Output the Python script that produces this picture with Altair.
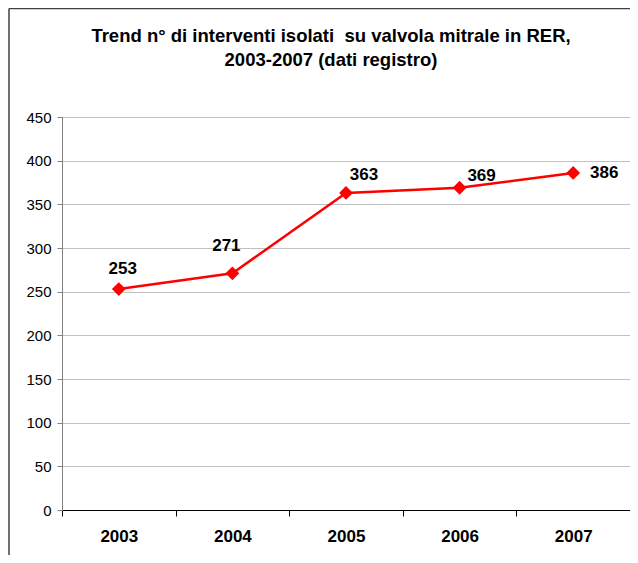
import altair as alt
import pandas as pd

years = ["2003", "2004", "2005", "2006", "2007"]
values = [253, 271, 363, 369, 386]
title_lines = ["Trend n° di interventi isolati \u00a0su valvola mitrale in RER,", "2003-2007 (dati registro)"]

df = pd.DataFrame({"anno": years, "n": values})

FONT = "Liberation Sans"
RED = "#ff0000"

x_enc = alt.X(
    "anno:N",
    sort=years,
    bandPosition=0.5,
    scale=alt.Scale(type="band", paddingInner=0, paddingOuter=0),
    axis=alt.Axis(
        title=None, labelAngle=0, tickBand="extent", tickSize=6, tickColor="#000000",
        domainColor="#000000", labelFont=FONT, labelFontSize=17, labelFontWeight="bold",
        labelColor="#000000", labelPadding=12, labelBaseline="top", grid=False,
    ),
)
y_enc = alt.Y(
    "n:Q",
    scale=alt.Scale(domain=[0, 450], nice=False, zero=True),
    axis=alt.Axis(
        title=None, values=list(range(0, 451, 50)), tickSize=5, tickColor="#808080",
        domainColor="#808080", labelFont=FONT, labelFontSize=15, labelColor="#000000",
        labelPadding=6, gridColor="#c0c0c0", gridWidth=1,
    ),
)

base = alt.Chart(df).encode(x=x_enc, y=y_enc)

line = base.mark_line(color=RED, strokeWidth=2.5)
pts = base.mark_point(shape="diamond", size=190, filled=True, color=RED, opacity=1)

label_style = dict(font=FONT, fontSize=17, fontWeight="bold", color="#000000", align="center", baseline="middle")
offsets = {"2003": (4, -20), "2004": (-6, -27), "2005": (18, -18), "2006": (22, -12), "2007": (31, 0)}
labels = [
    base.transform_filter(alt.datum.anno == yr).mark_text(dx=dx, dy=dy, **label_style).encode(text="n:Q")
    for yr, (dx, dy) in offsets.items()
]

frame_data = alt.Data(values=[{"k": 1}])
title_text = alt.Chart(frame_data).mark_text(
    font=FONT, fontSize=18.5, fontWeight="bold", color="#000000", align="center",
    baseline="alphabetic", lineHeight=24,
).encode(x=alt.value(269), y=alt.value(-75), text=alt.value(title_lines))

frame_top = alt.Chart(frame_data).mark_rule(color="#404040", strokeWidth=1.5).encode(
    x=alt.value(-53), x2=alt.value(600), y=alt.value(-108.5), y2=alt.value(-108.5)
)
frame_left = alt.Chart(frame_data).mark_rule(color="#404040", strokeWidth=1.5).encode(
    x=alt.value(-53), x2=alt.value(-53), y=alt.value(-108.5), y2=alt.value(460)
)

chart = alt.layer(line, pts, *labels, title_text, frame_top, frame_left).properties(
    width=568,
    height=393,
    autosize=alt.AutoSizeParams(type="none"),
    padding={"left": 54, "top": 109, "right": 0, "bottom": 45},
    background="#ffffff",
).configure_view(stroke="#808080", strokeWidth=1)

chart.save("out.html", embed_options={"renderer": "svg", "actions": False})
